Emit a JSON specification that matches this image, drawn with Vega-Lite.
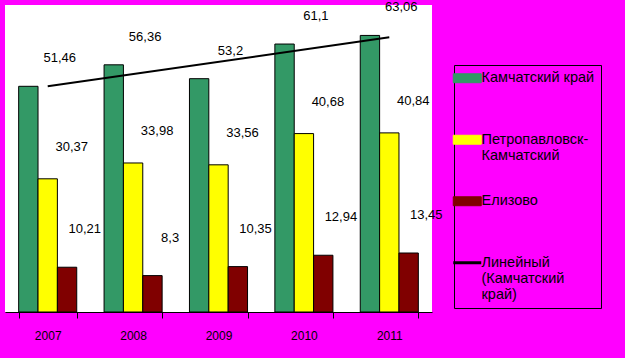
{
  "$schema": "https://vega.github.io/schema/vega-lite/v6.json",
  "width": 427,
  "height": 307,
  "autosize": {"type": "none"},
  "padding": {"left": 5, "top": 5, "right": 193, "bottom": 46},
  "background": "#FF00FF",
  "data": {
    "values": [
      {"year": 2007, "series": "Камчатский край", "value": 51.46},
      {"year": 2007, "series": "Петропавловск-Камчатский", "value": 30.37},
      {"year": 2007, "series": "Елизово", "value": 10.21},
      {"year": 2008, "series": "Камчатский край", "value": 56.36},
      {"year": 2008, "series": "Петропавловск-Камчатский", "value": 33.98},
      {"year": 2008, "series": "Елизово", "value": 8.3},
      {"year": 2009, "series": "Камчатский край", "value": 53.2},
      {"year": 2009, "series": "Петропавловск-Камчатский", "value": 33.56},
      {"year": 2009, "series": "Елизово", "value": 10.35},
      {"year": 2010, "series": "Камчатский край", "value": 61.1},
      {"year": 2010, "series": "Петропавловск-Камчатский", "value": 40.68},
      {"year": 2010, "series": "Елизово", "value": 12.94},
      {"year": 2011, "series": "Камчатский край", "value": 63.06},
      {"year": 2011, "series": "Петропавловск-Камчатский", "value": 40.84},
      {"year": 2011, "series": "Елизово", "value": 13.45}
    ]
  },
  "encoding": {
    "x": {
      "field": "year",
      "type": "ordinal",
      "scale": {"paddingInner": 0.32, "paddingOuter": 0.16},
      "axis": {
        "title": null,
        "labelAngle": 0,
        "labelFont": "Liberation Sans",
        "labelFontSize": 12,
        "labelColor": "black",
        "labelPadding": 12,
        "domainColor": "black",
        "tickColor": "black",
        "tickSize": 6,
        "tickBand": "extent",
        "grid": false
      }
    }
  },
  "layer": [
    {
      "mark": {"type": "bar", "stroke": "black", "strokeWidth": 1},
      "encoding": {
        "xOffset": {
          "field": "series",
          "type": "nominal",
          "sort": ["Камчатский край", "Петропавловск-Камчатский", "Елизово"],
          "scale": {"paddingInner": 0, "paddingOuter": 0}
        },
        "y": {
          "field": "value",
          "type": "quantitative",
          "scale": {"domain": [0, 70], "nice": false},
          "axis": null
        },
        "color": {
          "field": "series",
          "type": "nominal",
          "scale": {
            "domain": ["Камчатский край", "Петропавловск-Камчатский", "Елизово", "Линейный (Камчатский край)"],
            "range": ["#339966", "#FFFF00", "#800000", "#000000"]
          },
          "legend": {
            "title": null,
            "orient": "none",
            "legendX": 449,
            "legendY": 60,
            "strokeColor": "black",
            "padding": 6,
            "labelFont": "Liberation Sans",
            "labelFontSize": 14.5,
            "labelColor": "black",
            "labelOffset": 7,
            "labelLimit": 200,
            "symbolSize": 784,
            "symbolStrokeColor": "black",
            "symbolStrokeWidth": 1,
            "symbolOpacity": 1,
            "gridAlign": "all",
            "rowPadding": 14.5,
            "labelExpr": "datum.label == 'Петропавловск-Камчатский' ? ['Петропавловск-', 'Камчатский'] : datum.label == 'Линейный (Камчатский край)' ? ['Линейный', '(Камчатский', 'край)'] : datum.label",
            "encode": {
              "symbols": {
                "update": {
                  "shape": {"signal": "datum.value == 'Линейный (Камчатский край)' ? 'M-1,0H1' : 'M-1,-0.32H1V0.32H-1Z'"},
                  "strokeWidth": {"signal": "datum.value == 'Линейный (Камчатский край)' ? 3 : 1"},
                  "stroke": {"value": "black"}
                }
              },
              "labels": {
                "update": {
                  "lineHeight": {"value": 16}
                }
              }
            }
          }
        }
      }
    },
    {
      "transform": [
        {"filter": "datum.series == 'Камчатский край'"},
        {"regression": "value", "on": "year", "method": "linear"}
      ],
      "mark": {"type": "line", "strokeWidth": 2},
      "encoding": {
        "y": {"field": "value", "type": "quantitative"},
        "color": {"datum": "Линейный (Камчатский край)"}
      }
    },
    {
      "transform": [{"filter": "datum.series == 'Камчатский край'"}],
      "mark": {"type": "text", "font": "Liberation Sans", "fontSize": 13, "color": "black", "dx": 12, "dy": -28, "clip": false},
      "encoding": {
        "y": {"field": "value", "type": "quantitative"},
        "text": {"field": "value", "type": "quantitative", "format": "~g"}
      }
    },
    {
      "transform": [{"filter": "datum.series == 'Петропавловск-Камчатский'"}],
      "mark": {"type": "text", "font": "Liberation Sans", "fontSize": 13, "color": "black", "dx": 24, "dy": -32, "clip": false},
      "encoding": {
        "y": {"field": "value", "type": "quantitative"},
        "text": {"field": "value", "type": "quantitative", "format": "~g"}
      }
    },
    {
      "transform": [{"filter": "datum.series == 'Елизово'"}],
      "mark": {"type": "text", "font": "Liberation Sans", "fontSize": 13, "color": "black", "dx": 37, "dy": -38, "clip": false},
      "encoding": {
        "y": {"field": "value", "type": "quantitative"},
        "text": {"field": "value", "type": "quantitative", "format": "~g"}
      }
    }
  ],
  "config": {
    "view": {"fill": "white", "stroke": null},
    "locale": {
      "number": {"decimal": ",", "thousands": " ", "grouping": [3], "currency": ["", ""]}
    }
  }
}
